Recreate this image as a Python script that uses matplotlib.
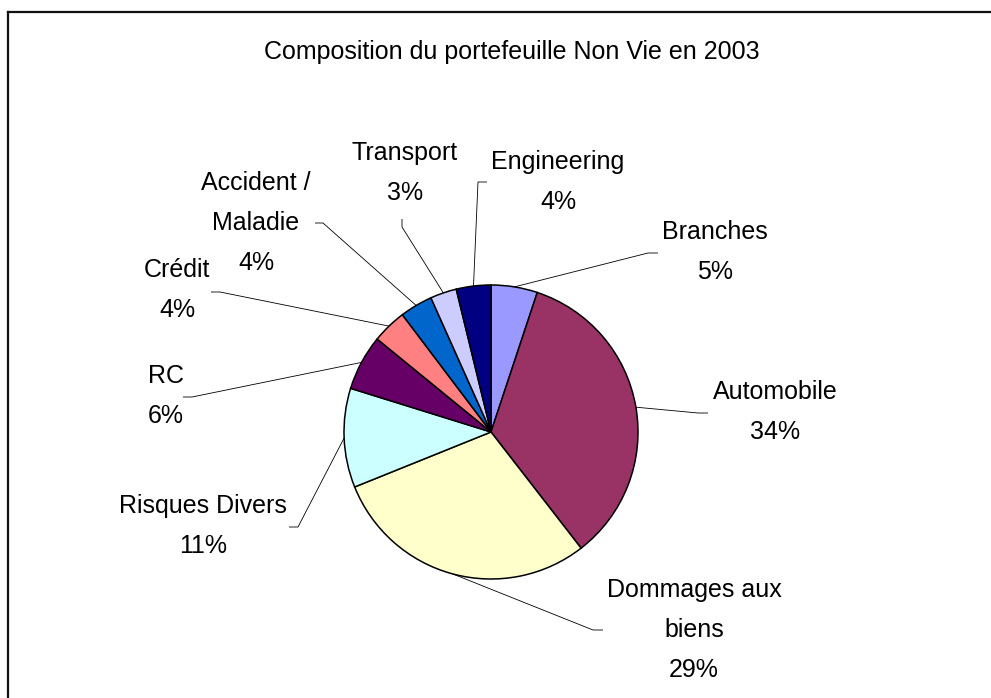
import matplotlib
matplotlib.use("Agg")
import matplotlib.pyplot as plt
from matplotlib.lines import Line2D
import numpy as np

# ---- data ----
categories = ["Branches", "Automobile", "Dommages aux biens", "Risques Divers", "RC",
              "Crédit", "Accident / Maladie", "Transport", "Engineering"]
label_texts = ["Branches", "Automobile", "Dommages aux\nbiens", "Risques Divers", "RC",
               "Crédit", "Accident /\nMaladie", "Transport", "Engineering"]
values = [5.1, 34.4, 29.4, 10.9, 6.1, 3.8, 3.6, 2.9, 3.8]
title = "Composition du portefeuille Non Vie en 2003"

# ---- style ----
colors = ["#9999FF", "#993366", "#FFFFCC", "#CCFFFF", "#660066",
          "#FF8080", "#0066CC", "#CCCCFF", "#000080"]
W, H = 991, 698
center_px = (491, 432)
radius_px = 147
# label block centres (pixels, y downward)
text_pos = [(715, 252), (775, 412), (694, 630), (203, 526), (166, 396),
            (177, 290), (256, 223), (405, 173), (558, 182)]
# leader elbows and ends (pixels)
elbows = [(648, 253), (698, 413), (593, 630), (298, 527), (192, 397),
          (220, 292), (323, 223), (402, 227), (478, 182)]
ends = [(658, 253), (708, 413), (603, 630), (289, 527), (183, 397),
        (211, 292), (315, 223), (402, 219), (487, 182)]

plt.rcParams['font.family'] = ['Liberation Sans', 'DejaVu Sans']

fig = plt.figure(figsize=(W / 100, H / 100), dpi=100)
fig.patch.set_facecolor("white")
ax = fig.add_axes([0, 0, 1, 1])
ax.set_axis_off()


def py(y):
    return H - y


cx, cy = center_px[0], py(center_px[1])
wedges, _ = ax.pie(values, colors=colors, startangle=90, counterclock=False,
                   center=(cx, cy), radius=radius_px,
                   wedgeprops=dict(edgecolor="black", linewidth=1.1))
ax.set_xlim(0, W)
ax.set_ylim(0, H)
ax.set_aspect('equal')

total = sum(values)
for i, w in enumerate(wedges):
    ang = np.deg2rad((w.theta1 + w.theta2) / 2)
    sx = cx + radius_px * np.cos(ang)
    sy = cy + radius_px * np.sin(ang)
    ex, ey = elbows[i]
    fx, fy = ends[i]
    ax.plot([sx, ex, fx], [sy, py(ey), py(fy)], color="black", lw=0.6,
            solid_capstyle="butt")
    pct = int(round(values[i] / total * 100))
    tx, ty = text_pos[i]
    ax.text(tx, py(ty), f"{label_texts[i]}\n{pct}%", ha="center", va="center",
            multialignment="center", fontsize=18, linespacing=1.85, color="black")

ax.text(512, py(52), title, ha="center", va="center", fontsize=18, color="black")

# outer frame (top and left edges visible)
fig.add_artist(Line2D([8 / W, 8 / W], [0, 1 - 12 / H], transform=fig.transFigure,
                      color="#111111", lw=1.6))
fig.add_artist(Line2D([8 / W, 1], [1 - 12 / H, 1 - 12 / H], transform=fig.transFigure,
                      color="#111111", lw=1.6))

fig.savefig("out.png", dpi=100)
